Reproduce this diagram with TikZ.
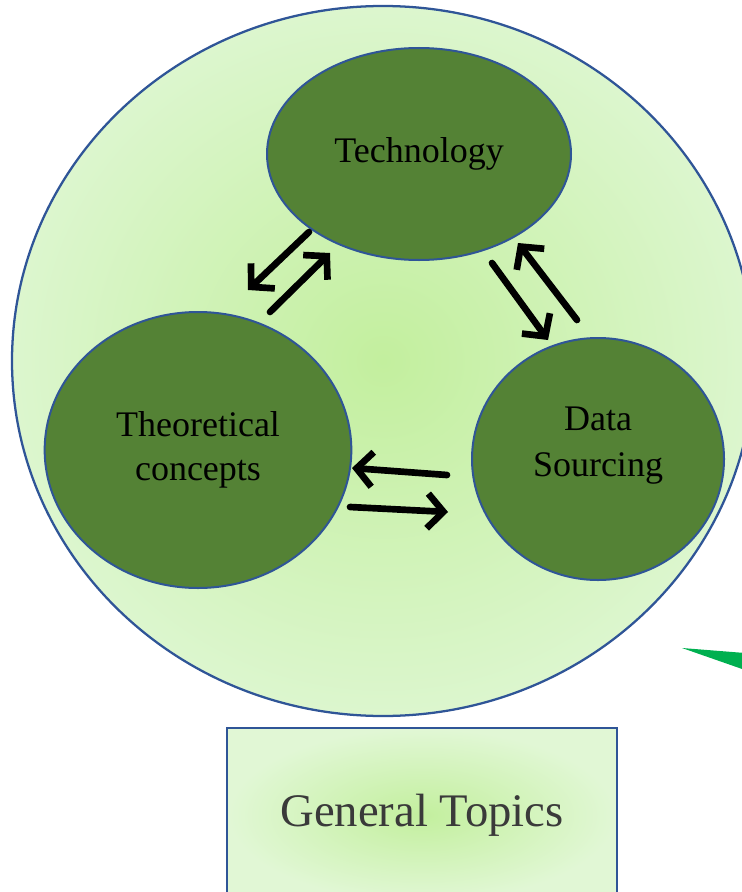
\documentclass[tikz,border=0pt]{standalone}
\usepackage{fontspec}
\setmainfont{Liberation Serif}
\usetikzlibrary{shapes.geometric,arrows.meta,positioning}
\definecolor{ringblue}{HTML}{2F5597}
\definecolor{leafgreen}{HTML}{548235}
\definecolor{palegreen}{HTML}{DCF6CE}
\definecolor{limegreen}{HTML}{C3EF9E}
\definecolor{wedgegreen}{HTML}{00B050}
\definecolor{inkgray}{HTML}{3A3A3A}
\tikzstyle{topic} = [ellipse,
                    inner sep=0pt,
                    align=center,
                    draw=ringblue,
                    fill=leafgreen,
                    line width=1.5pt,
                    font=\fontsize{27}{33}\selectfont]
\tikzstyle{flow} = [line width=5pt,
                   line cap=round,
                   line join=round,
                   -{Straight Barb[length=12pt,width=26pt]}]
\tikzstyle{diagram} = [x=0.75pt,
                      y=-0.75pt]

\begin{document}
\begin{tikzpicture}[diagram]
    \useasboundingbox (0,0) rectangle (742,892);
    \clip (0,0) rectangle (742,892);
    \node (0) [ellipse, draw=ringblue, line width=1.7pt, inner color=limegreen, outer color=palegreen,
               minimum width=556.5pt, minimum height=532.5pt] at (383,361) {};
    \node (1) [topic, minimum width=228pt, minimum height=159pt] at (419,154) {Technology};
    \node (2) [topic, minimum width=230pt, minimum height=207pt] at (198,450) {Theoretical\\concepts};
    \node (3) [topic, minimum width=189pt, minimum height=181.5pt,
               label={[align=center, yshift=10pt, font=\fontsize{27}{34}\selectfont]center:{Data\\Sourcing}}] at (598,459) {};
    \node (4) [rectangle, draw=ringblue, line width=2pt, inner color=limegreen, outer color=palegreen!85!white,
               minimum width=292.5pt, minimum height=130.5pt, text=inkgray,
               font=\fontsize{35}{42}\selectfont] at (422,815) {General Topics};
    % arrow ends
    \coordinate (12a) at (309,232);
    \coordinate (12b) at (248,290);
    \coordinate (21a) at (270,312);
    \coordinate (21b) at (330,253);
    \coordinate (13a) at (492,263);
    \coordinate (13b) at (548,340);
    \coordinate (31a) at (577,320);
    \coordinate (31b) at (518,243);
    \coordinate (32a) at (447,475);
    \coordinate (32b) at (352,468);
    \coordinate (23a) at (350,507);
    \coordinate (23b) at (448,512);
    \draw[flow] (12a) -- (12b);
    \draw[flow] (21a) -- (21b);
    \draw[flow] (13a) -- (13b);
    \draw[flow] (31a) -- (31b);
    \draw[flow] (32a) -- (32b);
    \draw[flow] (23a) -- (23b);
    \fill[wedgegreen] (682,648) -- (745,653) -- (745,670) -- cycle;
\end{tikzpicture}
\end{document}
